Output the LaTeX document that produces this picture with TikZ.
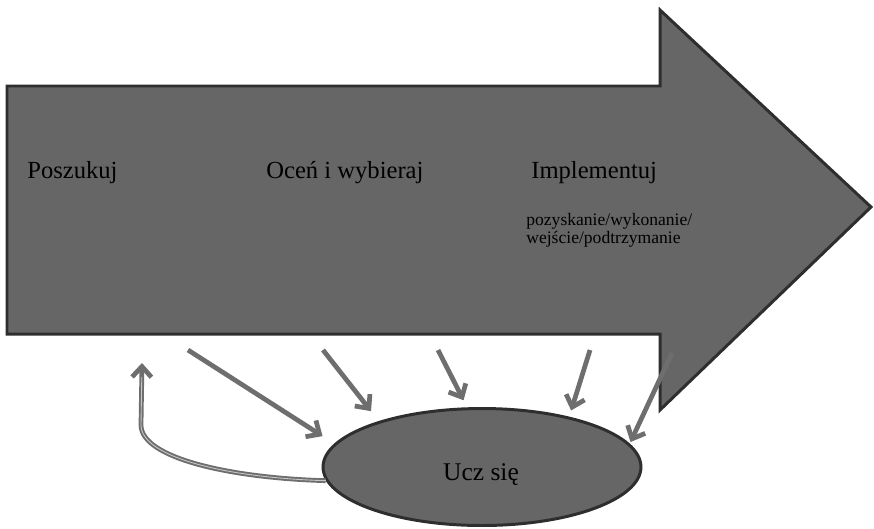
\documentclass[tikz,border=0pt]{standalone}
\usepackage{fontspec}
\setmainfont{Liberation Serif}
\usetikzlibrary{positioning,shapes.geometric,arrows.meta}
\definecolor{bigfill}{HTML}{666666}
\definecolor{bigline}{HTML}{2E2E2E}
\definecolor{feedgray}{HTML}{6E6E6E}

\begin{document}
\begin{tikzpicture}[x=0.02cm,y=-0.02cm,
  stage/.style={anchor=base west,inner sep=0pt,font=\fontsize{14}{16}\selectfont},
  feed/.style={draw=feedgray,line width=2.7pt,-{Straight Barb[length=6pt,width=11pt]}}]
  \useasboundingbox (0,0) rectangle (874,528);
  % big arrow
  \draw[fill=bigfill,draw=bigline,line width=1.7pt]
    (7,86) -- (660,86) -- (660,10) -- (871,207) -- (660,410) -- (660,334) -- (7,334) -- cycle;
  \node[stage] (seek) at (27,178) {Poszukuj};
  \node[stage] (judge) at (266,178) {Oceń i wybieraj};
  \node[stage] (impl) at (531,178) {Implementuj};
  \node[anchor=north west,inner sep=0pt,align=left,font=\fontsize{10}{10.4}\selectfont] (implsub) at (526,213) {pozyskanie/wykonanie/\\wejście/podtrzymanie};
  % learning
  \node[ellipse,draw=bigline,fill=bigfill,line width=1.7pt,inner sep=0pt,minimum width=6.36cm,minimum height=2.34cm] (learn) at (482,467) {};
  \node[anchor=base,inner sep=0pt,font=\fontsize{14.5}{17}\selectfont] (learntxt) at (481,480) {Ucz się};
  \coordinate (f1) at (188,350);
  \coordinate (f2) at (323,350);
  \coordinate (f3) at (438,350);
  \coordinate (f4) at (590,350);
  \coordinate (f5) at (672,353);
  \coordinate (back) at (142,363);
  \draw[feed,shorten >=7.9pt] (f1) -- (learn.171);
  \draw[feed,shorten >=7.2pt] (f2) -- (learn.156);
  \draw[feed,shorten >=4.5pt] (f3) -- (learn.104);
  \draw[feed,shorten >=3.7pt] (f4) -- (learn.30);
  \draw[feed,shorten >=1pt] (f5) -- (learn.9);
  % back to the start
  \draw[feed] (learn.185) .. controls (230,478) and (141,458) .. (141,425) -- (back);
  \draw[gray!45,line width=0.5pt,shorten >=8pt]
    (learn.185) .. controls (230,478) and (141,458) .. (141,425) -- (back);
\end{tikzpicture}
\end{document}
